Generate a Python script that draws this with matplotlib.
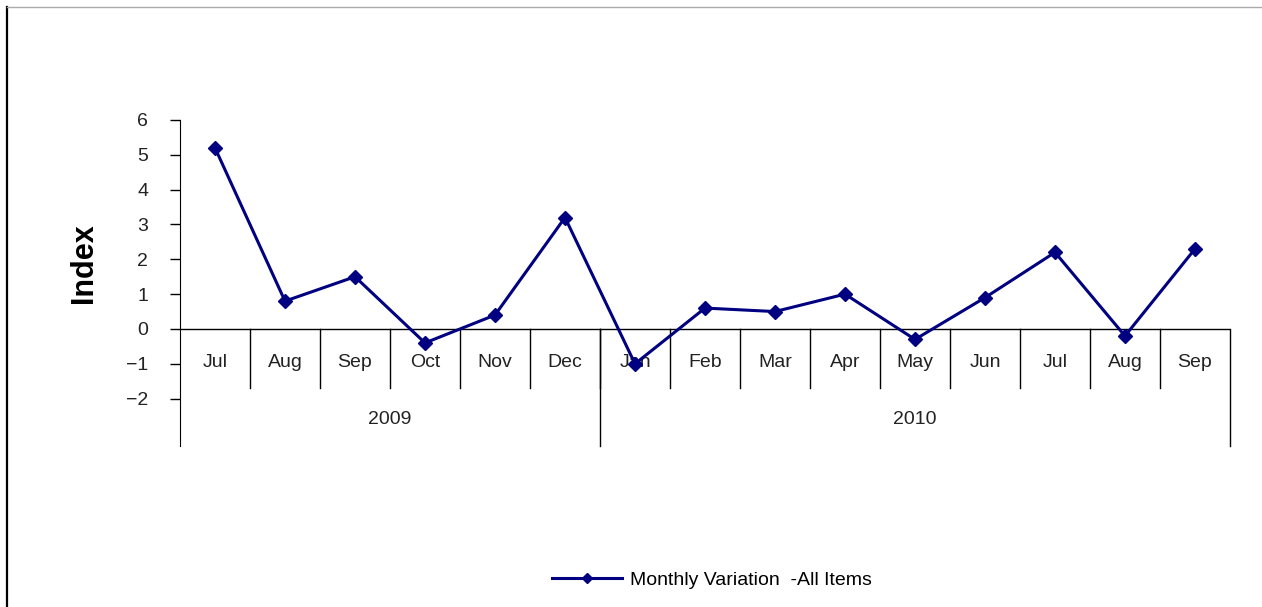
import matplotlib.pyplot as plt
from matplotlib.lines import Line2D

# monthly variation, Jul 2009 - Sep 2010
months = ['Jul', 'Aug', 'Sep', 'Oct', 'Nov', 'Dec',
          'Jan', 'Feb', 'Mar', 'Apr', 'May', 'Jun', 'Jul', 'Aug', 'Sep']
values = [5.2, 0.8, 1.5, -0.4, 0.4, 3.2,
          -1.0, 0.6, 0.5, 1.0, -0.3, 0.9, 2.2, -0.2, 2.3]
years = ['2009', '2010']
year_counts = [6, 9]
yticks = [-2, -1, 0, 1, 2, 3, 4, 5, 6]

plt.rcParams['font.family'] = ['Liberation Sans', 'DejaVu Sans']
navy = '#000080'
txt = '#222222'
fs = 14

W, H = 1262, 607
fig = plt.figure(figsize=(W / 100, H / 100), dpi=100)
ax = fig.add_axes([180 / W, (H - 446) / H, 1050 / W, 326 / H])

x = list(range(len(months)))
ax.plot(x, values, color=navy, lw=2.2, marker='D', ms=7,
        label='Monthly Variation  -All Items', zorder=5)

ymin = -3.36
ax.set_xlim(-0.5, len(months) - 0.5)
ax.set_ylim(ymin, 6)
for s in ['top', 'right', 'bottom']:
    ax.spines[s].set_visible(False)
ax.spines['left'].set_color('black')
ax.spines['left'].set_bounds(ymin, 6)
ax.set_yticks(yticks)
ax.set_yticklabels([str(v).replace('-', '\u2212') for v in yticks])
ax.tick_params(axis='y', direction='out', length=7, width=1, labelsize=fs, pad=16,
               labelcolor=txt)
ax.set_xticks([])

# zero line and category grid
ax.axhline(0, color='black', lw=1, zorder=2)
for k in range(1, len(months)):
    ax.plot([k - 0.5, k - 0.5], [0, -1.69], color='black', lw=1)
for i, m in enumerate(months):
    ax.text(i, -0.95, m, ha='center', va='center', fontsize=fs, color=txt)

start = -0.5
for yr, n in zip(years, year_counts):
    end = start + n
    ax.plot([end, end], [0, ymin], color='black', lw=1, clip_on=False)
    ax.text((start + end) / 2, -2.6, yr, ha='center', va='center',
            fontsize=fs, color=txt)
    start = end

fig.text(84 / W, (H - 263) / H, 'Index', rotation=90, ha='center', va='center',
         fontsize=22, fontweight='bold')

fig.legend(loc='center', bbox_to_anchor=(712 / W, (H - 580) / H), frameon=False,
           fontsize=fs, handlelength=3.6, handletextpad=0.4, markerscale=0.7)

# outer frame
fig.add_artist(Line2D([7 / W, 7 / W], [0, (H - 7) / H], color='black', lw=1.6))
fig.add_artist(Line2D([7 / W, 1], [(H - 7) / H, (H - 7) / H], color='#aaaaaa', lw=1))

fig.savefig('out.png', dpi=100)
